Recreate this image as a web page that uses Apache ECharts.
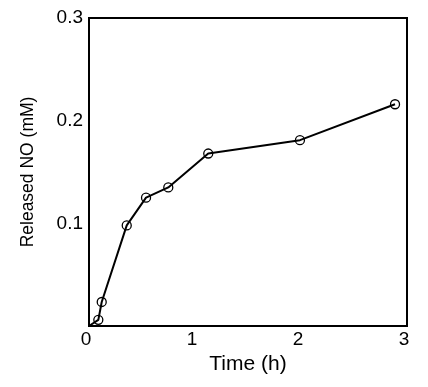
<!DOCTYPE html>
<html>
<head>
<meta charset="utf-8">
<script src="https://cdn.jsdelivr.net/npm/echarts@6/dist/echarts.min.js"></script>
<style>html,body{margin:0;padding:0;background:#fff}#c{width:428px;height:387px}</style>
</head>
<body>
<div id="c"></div>
<script>
var timeH = [0.088, 0.12, 0.356, 0.538, 0.748, 1.125, 1.99, 2.887];
var releasedNO = [0.006, 0.0234, 0.098, 0.125, 0.135, 0.168, 0.181, 0.216];
var origin = [0, 0];
var xTicks = [0, 1, 2, 3];
var yTicks = [0.1, 0.2, 0.3];

var pts = [{value: origin, symbol: 'none'}];
for (var i = 0; i < timeH.length; i++) pts.push([timeH[i], releasedNO[i]]);

var font = 'Liberation Sans, Arial, sans-serif';
var chart = echarts.init(document.getElementById('c'));
chart.setOption({
  animation: false,
  grid: {left: 89, top: 18, right: 21, bottom: 61, show: true, borderColor: '#000', borderWidth: 2, backgroundColor: 'transparent'},
  xAxis: {
    type: 'value', min: 0, max: 3, interval: 1,
    name: 'Time (h)', nameLocation: 'middle', nameGap: 26,
    nameTextStyle: {fontFamily: font, fontSize: 21, color: '#000'},
    axisLine: {show: true, lineStyle: {color: '#000', width: 2}},
    axisTick: {show: false},
    splitLine: {show: false},
    axisLabel: {fontFamily: font, fontSize: 19, color: '#000', margin: 4, padding: [0, 6, 0, 0],
      formatter: function (v) { return xTicks.indexOf(v) >= 0 ? String(v) : ''; }}
  },
  yAxis: {
    type: 'value', min: 0, max: 0.3, interval: 0.1,
    name: 'Released NO (mM)', nameLocation: 'middle', nameGap: 52, nameRotate: 90,
    nameTextStyle: {fontFamily: font, fontSize: 17.5, color: '#000'},
    axisLine: {show: true, lineStyle: {color: '#000', width: 2}},
    axisTick: {show: false},
    splitLine: {show: false},
    axisLabel: {fontFamily: font, fontSize: 19, color: '#000', margin: 6,
      formatter: function (v) {
        for (var k = 0; k < yTicks.length; k++) if (Math.abs(yTicks[k] - v) < 1e-9) return yTicks[k].toFixed(1);
        return '';
      }}
  },
  series: [{
    type: 'line',
    data: pts,
    symbol: 'circle',
    symbolSize: 9,
    showAllSymbol: true,
    lineStyle: {color: '#000', width: 2},
    itemStyle: {color: 'rgba(255,255,255,0)', borderColor: '#000', borderWidth: 1.3}
  }]
});
</script>
</body>
</html>
